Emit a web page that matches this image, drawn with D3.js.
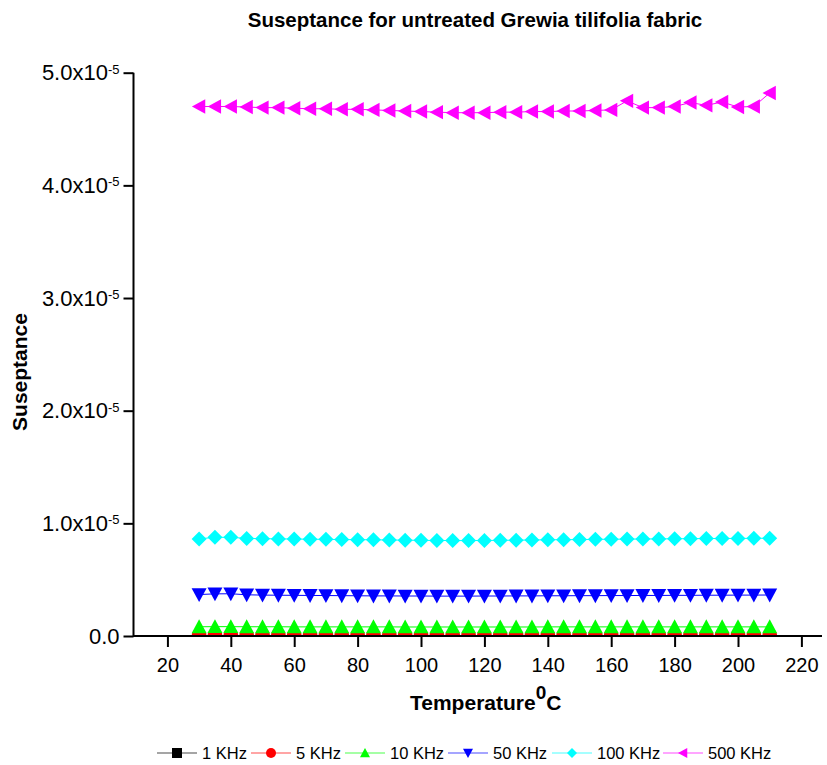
<!DOCTYPE html>
<html>
<head>
<meta charset="utf-8">
<script src="https://cdn.jsdelivr.net/npm/d3@7"></script>
<style>
  body { margin: 0; background: #fff; }
  svg text { font-family: Arial, "Liberation Sans", sans-serif; }
</style>
</head>
<body>
<div id="chart"></div>
<script>
// temperatures (deg C)
var temps = [30, 35, 40, 45, 50, 55, 60, 65, 70, 75, 80, 85, 90, 95, 100, 105, 110, 115, 120,
             125, 130, 135, 140, 145, 150, 155, 160, 165, 170, 175, 180, 185, 190, 195, 200, 205, 210];

// suseptance per frequency
var khz1 = [0.5e-8, 0.5e-8, 0.5e-8, 0.5e-8, 0.5e-8, 0.5e-8, 0.5e-8, 0.5e-8, 0.5e-8, 0.5e-8, 0.5e-8, 0.5e-8, 0.5e-8,
            0.5e-8, 0.5e-8, 0.5e-8, 0.5e-8, 0.5e-8, 0.5e-8, 0.5e-8, 0.5e-8, 0.5e-8, 0.5e-8, 0.5e-8, 0.5e-8, 0.5e-8,
            0.5e-8, 0.5e-8, 0.5e-8, 0.5e-8, 0.5e-8, 0.5e-8, 0.5e-8, 0.5e-8, 0.5e-8, 0.5e-8, 0.5e-8];
var khz5 = [1.9e-8, 1.9e-8, 1.9e-8, 1.8e-8, 1.8e-8, 1.8e-8, 1.8e-8, 1.8e-8, 1.8e-8, 1.8e-8, 1.8e-8, 1.8e-8, 1.8e-8,
            1.8e-8, 1.8e-8, 1.8e-8, 1.8e-8, 1.8e-8, 1.8e-8, 1.8e-8, 1.8e-8, 1.8e-8, 1.8e-8, 1.8e-8, 1.8e-8, 1.8e-8,
            1.8e-8, 1.8e-8, 1.8e-8, 1.8e-8, 1.8e-8, 1.8e-8, 1.8e-8, 1.8e-8, 1.8e-8, 1.8e-8, 1.8e-8];
var khz10 = [8.2e-7, 8.3e-7, 8.3e-7, 8.2e-7, 8.2e-7, 8.2e-7, 8.1e-7, 8.1e-7, 8.1e-7, 8.1e-7, 8.1e-7, 8.1e-7, 8.1e-7,
             8.0e-7, 8.0e-7, 8.0e-7, 8.0e-7, 8.0e-7, 8.0e-7, 8.0e-7, 8.0e-7, 8.0e-7, 8.1e-7, 8.1e-7, 8.1e-7, 8.1e-7,
             8.1e-7, 8.1e-7, 8.1e-7, 8.1e-7, 8.1e-7, 8.1e-7, 8.1e-7, 8.1e-7, 8.1e-7, 8.1e-7, 8.1e-7];
var khz50 = [3.68e-6, 3.74e-6, 3.75e-6, 3.66e-6, 3.63e-6, 3.62e-6, 3.61e-6, 3.60e-6, 3.59e-6, 3.58e-6, 3.57e-6, 3.56e-6, 3.56e-6,
             3.55e-6, 3.55e-6, 3.54e-6, 3.54e-6, 3.54e-6, 3.55e-6, 3.55e-6, 3.56e-6, 3.56e-6, 3.57e-6, 3.57e-6, 3.58e-6, 3.58e-6,
             3.59e-6, 3.59e-6, 3.60e-6, 3.60e-6, 3.61e-6, 3.61e-6, 3.62e-6, 3.62e-6, 3.63e-6, 3.63e-6, 3.64e-6];
var khz100 = [8.62e-6, 8.76e-6, 8.76e-6, 8.66e-6, 8.64e-6, 8.62e-6, 8.61e-6, 8.59e-6, 8.58e-6, 8.56e-6, 8.55e-6, 8.54e-6, 8.52e-6,
              8.51e-6, 8.49e-6, 8.48e-6, 8.47e-6, 8.47e-6, 8.48e-6, 8.49e-6, 8.51e-6, 8.52e-6, 8.54e-6, 8.55e-6, 8.56e-6, 8.58e-6,
              8.59e-6, 8.60e-6, 8.61e-6, 8.62e-6, 8.63e-6, 8.64e-6, 8.65e-6, 8.66e-6, 8.66e-6, 8.67e-6, 8.68e-6];
var khz500 = [4.700e-5, 4.700e-5, 4.700e-5, 4.695e-5, 4.690e-5, 4.690e-5, 4.685e-5, 4.680e-5, 4.680e-5, 4.675e-5, 4.675e-5, 4.670e-5, 4.665e-5,
              4.660e-5, 4.655e-5, 4.650e-5, 4.645e-5, 4.645e-5, 4.645e-5, 4.650e-5, 4.650e-5, 4.655e-5, 4.655e-5, 4.660e-5, 4.660e-5, 4.665e-5,
              4.670e-5, 4.750e-5, 4.690e-5, 4.690e-5, 4.700e-5, 4.735e-5, 4.710e-5, 4.740e-5, 4.695e-5, 4.700e-5, 4.820e-5];

var seriesNames = ["1 KHz", "5 KHz", "10 KHz", "50 KHz", "100 KHz", "500 KHz"];
var seriesValues = [khz1, khz5, khz10, khz50, khz100, khz500];
var seriesColors = ["#000000", "#ff0000", "#00ff00", "#0000ff", "#00ffff", "#ff00ff"];
var seriesShapes = ["square", "circle", "up", "down", "diamond", "left"];

var xTicks = [20, 40, 60, 80, 100, 120, 140, 160, 180, 200, 220];
var yTicks = [0, 1e-5, 2e-5, 3e-5, 4e-5, 5e-5];

var width = 827, height = 765;

var svg = d3.select("#chart")
  .append("svg")
    .attr("width", width)
    .attr("height", height);

svg.append("rect").attr("width", width).attr("height", height).attr("fill", "#fff");

var x = d3.scaleLinear().domain([9.3, 226.5]).range([133.5, 822]);
var y = d3.scaleLinear().domain([0, 5e-5]).range([636, 72.7]);

// plot area clip (markers are cut at the axis line)
svg.append("clipPath").attr("id", "plotclip")
  .append("rect")
    .attr("x", x.range()[0]).attr("y", 0)
    .attr("width", x.range()[1] - x.range()[0])
    .attr("height", y(0) + 1);

// marker outlines, r = half size
function shapePath(shape, r) {
  switch (shape) {
    case "square": return "M" + (-r) + "," + (-r) + "H" + r + "V" + r + "H" + (-r) + "Z";
    case "circle": return "M" + (-r) + ",0A" + r + "," + r + " 0 1,0 " + r + ",0A" + r + "," + r + " 0 1,0 " + (-r) + ",0Z";
    case "up": return "M0," + (-r) + "L" + r + "," + (r * 0.85) + "L" + (-r) + "," + (r * 0.85) + "Z";
    case "down": return "M0," + r + "L" + r + "," + (-r * 0.85) + "L" + (-r) + "," + (-r * 0.85) + "Z";
    case "diamond": return "M0," + (-r) + "L" + r + ",0L0," + r + "L" + (-r) + ",0Z";
    case "left": return "M" + (-r) + ",0L" + (r * 0.85) + "," + (-r) + "L" + (r * 0.85) + "," + r + "Z";
  }
}
var markerSize = {square: 5, circle: 7.5, up: 7.5, down: 7.5, diamond: 7.5, left: 7.2};

var line = d3.line()
  .x(function(d) { return x(d[0]); })
  .y(function(d) { return y(d[1]); });

var plot = svg.append("g").attr("clip-path", "url(#plotclip)");

seriesValues.forEach(function(vals, i) {
  var pts = temps.map(function(t, j) { return [t, vals[j]]; });
  var g = plot.append("g");
  g.append("path")
    .attr("d", line(pts))
    .attr("fill", "none")
    .attr("stroke", seriesColors[i])
    .attr("stroke-width", 1);
  g.selectAll("path.mk")
    .data(pts)
    .enter()
    .append("path")
      .attr("class", "mk")
      .attr("transform", function(d) { return "translate(" + x(d[0]) + "," + y(d[1]) + ")"; })
      .attr("d", shapePath(seriesShapes[i], markerSize[seriesShapes[i]]))
      .attr("fill", seriesColors[i]);
});

// axes
var xMinor = d3.range(10, 221, 20);
var yMinor = d3.range(0.5e-5, 5e-5, 1e-5);

var gx = svg.append("g").attr("transform", "translate(0," + y(0) + ")");
gx.call(d3.axisBottom(x).tickValues(xMinor).tickSize(6).tickFormat(""));
gx.call(d3.axisBottom(x).tickValues(xTicks).tickSize(11).tickPadding(11).tickFormat(d3.format("d")));

var gy = svg.append("g").attr("transform", "translate(" + x.range()[0] + ",0)");
gy.call(d3.axisLeft(y).tickValues(yMinor).tickSize(5).tickFormat(""));
gy.call(d3.axisLeft(y).tickValues(yTicks).tickSize(10).tickPadding(4).tickFormat(function(d) {
  return d === 0 ? "0.0" : (d / 1e-5).toFixed(1) + "x10";
}));

gx.selectAll(".domain").remove();
gy.selectAll(".domain").remove();
svg.append("line").attr("x1", x.range()[0]).attr("x2", x.range()[1])
  .attr("y1", y(0)).attr("y2", y(0)).attr("stroke", "#000").attr("stroke-width", 1.8);
svg.append("line").attr("x1", x.range()[0]).attr("x2", x.range()[0])
  .attr("y1", y(0) + 0.9).attr("y2", y.range()[1]).attr("stroke", "#000").attr("stroke-width", 2);

svg.selectAll(".tick line").attr("stroke-width", 2);
svg.selectAll(".tick text").attr("font-size", 20).attr("fill", "#000")
  .style("font-family", "Arial, 'Liberation Sans', sans-serif");
gy.selectAll(".tick text").attr("font-size", 22);

gy.selectAll(".tick text").each(function(d) {
  if (d !== 0) {
    d3.select(this).append("tspan")
      .attr("dy", "-0.5em")
      .attr("font-size", 13)
      .text("-5");
  }
});

// titles
svg.append("text")
  .attr("x", 475).attr("y", 27)
  .attr("text-anchor", "middle")
  .attr("font-size", 20.5).attr("font-weight", "bold")
  .text("Suseptance for untreated Grewia tilifolia fabric");

svg.append("text")
  .attr("transform", "translate(27,372) rotate(-90)")
  .attr("text-anchor", "middle")
  .attr("font-size", 21).attr("font-weight", "bold")
  .text("Suseptance");

var xt = svg.append("text")
  .attr("x", 410).attr("y", 710)
  .attr("font-size", 21).attr("font-weight", "bold");
xt.append("tspan").text("Temperature");
xt.append("tspan").attr("dy", -11).attr("font-size", 19).text("0");
xt.append("tspan").attr("dy", 11).text("C");

// legend
var legendX = [157, 251, 345, 448, 552, 663];
var lg = svg.append("g");
seriesNames.forEach(function(name, i) {
  var g = lg.append("g").attr("transform", "translate(" + legendX[i] + ",753)");
  g.append("line").attr("x1", 0).attr("x2", 40).attr("y1", 0).attr("y2", 0)
    .attr("stroke", seriesColors[i]).attr("stroke-width", 1.2).attr("opacity", 0.7);
  g.append("path").attr("transform", "translate(20,0)")
    .attr("d", shapePath(seriesShapes[i], 5))
    .attr("fill", seriesColors[i]);
  g.append("text").attr("x", 45).attr("y", 6)
    .attr("font-size", 16.5)
    .text(name);
});
</script>
</body>
</html>
